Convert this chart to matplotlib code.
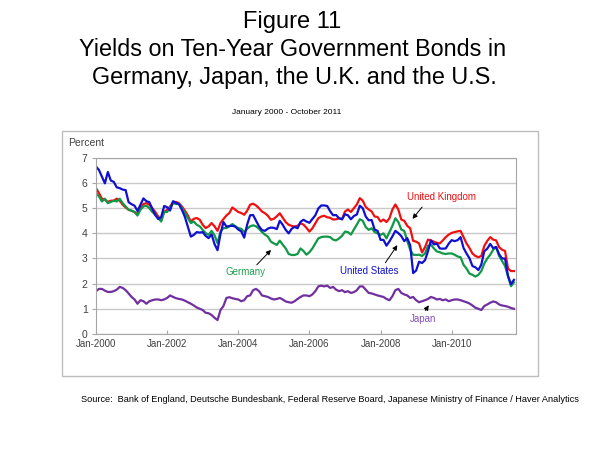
import numpy as np
import matplotlib
matplotlib.use('Agg')
import matplotlib.pyplot as plt
from matplotlib.patches import Rectangle

plt.rcParams['font.family'] = ['Liberation Sans', 'DejaVu Sans']

# monthly yields, Jan-2000 .. Oct-2011 (percent)
us = [6.66, 6.52, 6.26, 5.99, 6.44, 6.10, 6.05, 5.83, 5.80, 5.74, 5.72, 5.24,
      5.16, 5.10, 4.89, 5.14, 5.39, 5.28, 5.24, 4.97, 4.73, 4.57, 4.65, 5.09,
      5.04, 4.91, 5.28, 5.21, 5.16, 4.93, 4.65, 4.26, 3.87, 3.94, 4.05, 4.03,
      4.05, 3.90, 3.81, 3.96, 3.57, 3.33, 3.98, 4.45, 4.27, 4.29, 4.30, 4.27,
      4.15, 4.08, 3.83, 4.35, 4.72, 4.73, 4.50, 4.28, 4.13, 4.10, 4.19, 4.23,
      4.22, 4.17, 4.50, 4.34, 4.14, 4.00, 4.18, 4.26, 4.20, 4.46, 4.54, 4.47,
      4.42, 4.57, 4.72, 4.99, 5.11, 5.11, 5.09, 4.88, 4.72, 4.73, 4.60, 4.56,
      4.76, 4.72, 4.56, 4.69, 4.75, 5.10, 5.00, 4.67, 4.52, 4.53, 4.15, 4.10,
      3.74, 3.74, 3.51, 3.68, 3.88, 4.10, 4.01, 3.89, 3.69, 3.81, 3.53, 2.42,
      2.52, 2.87, 2.82, 2.93, 3.29, 3.72, 3.56, 3.59, 3.40, 3.39, 3.40, 3.59,
      3.73, 3.69, 3.73, 3.85, 3.42, 3.20, 3.01, 2.70, 2.65, 2.54, 2.76, 3.29,
      3.39, 3.58, 3.41, 3.46, 3.17, 3.00, 3.00, 2.30, 1.98, 2.15]

uk = [5.80, 5.60, 5.38, 5.34, 5.25, 5.30, 5.30, 5.38, 5.30, 5.14, 5.03, 4.94,
      4.90, 4.85, 4.77, 5.00, 5.17, 5.20, 5.14, 5.00, 4.85, 4.67, 4.54, 4.85,
      4.94, 5.07, 5.25, 5.25, 5.20, 5.07, 4.90, 4.71, 4.47, 4.58, 4.61, 4.54,
      4.34, 4.21, 4.28, 4.41, 4.28, 4.10, 4.41, 4.57, 4.71, 4.81, 5.03, 4.94,
      4.85, 4.81, 4.74, 4.90, 5.14, 5.18, 5.11, 5.00, 4.87, 4.80, 4.70, 4.54,
      4.58, 4.68, 4.80, 4.62, 4.45, 4.34, 4.30, 4.27, 4.30, 4.40, 4.35, 4.22,
      4.07, 4.20, 4.40, 4.60, 4.67, 4.70, 4.64, 4.62, 4.55, 4.56, 4.60, 4.56,
      4.87, 4.95, 4.85, 5.00, 5.15, 5.40, 5.30, 5.05, 4.95, 4.87, 4.67, 4.65,
      4.47, 4.55, 4.45, 4.60, 4.95, 5.15, 4.95, 4.55, 4.50, 4.30, 4.20, 3.70,
      3.67, 3.60, 3.24, 3.45, 3.75, 3.72, 3.67, 3.62, 3.60, 3.72, 3.85, 3.95,
      4.02, 4.05, 4.08, 4.10, 3.85, 3.60, 3.42, 3.20, 3.10, 3.05, 3.10, 3.50,
      3.70, 3.85, 3.75, 3.72, 3.45, 3.35, 3.30, 2.60, 2.50, 2.50]

germany = [5.60, 5.47, 5.27, 5.38, 5.20, 5.25, 5.30, 5.27, 5.38, 5.20, 5.07, 4.94,
           4.90, 4.85, 4.71, 4.94, 5.07, 5.10, 5.00, 4.85, 4.74, 4.61, 4.47, 4.85,
           4.85, 5.03, 5.20, 5.17, 5.17, 5.00, 4.81, 4.61, 4.41, 4.47, 4.34, 4.28,
           4.14, 4.01, 3.94, 4.10, 3.92, 3.61, 4.07, 4.21, 4.21, 4.28, 4.37, 4.28,
           4.21, 4.18, 4.05, 4.18, 4.28, 4.32, 4.28, 4.18, 4.05, 3.95, 3.87, 3.67,
           3.60, 3.54, 3.71, 3.55, 3.40, 3.18, 3.14, 3.14, 3.18, 3.40, 3.30, 3.15,
           3.25, 3.40, 3.60, 3.80, 3.85, 3.87, 3.87, 3.85, 3.75, 3.72, 3.80, 3.90,
           4.07, 4.05, 3.95, 4.15, 4.35, 4.56, 4.50, 4.25, 4.14, 4.20, 4.05, 4.00,
           3.94, 4.00, 3.80, 4.05, 4.30, 4.60, 4.45, 4.15, 4.10, 3.70, 3.35, 3.15,
           3.14, 3.15, 3.10, 3.20, 3.50, 3.55, 3.40, 3.28, 3.25, 3.20, 3.18, 3.20,
           3.20, 3.15, 3.08, 3.05, 2.75, 2.60, 2.40, 2.35, 2.28, 2.35, 2.50, 2.80,
           3.00, 3.15, 3.35, 3.45, 3.10, 2.90, 2.70, 2.30, 1.90, 2.05]

japan = [1.70, 1.79, 1.79, 1.72, 1.67, 1.67, 1.70, 1.76, 1.87, 1.83, 1.74, 1.61,
         1.47, 1.37, 1.20, 1.34, 1.30, 1.20, 1.30, 1.34, 1.37, 1.37, 1.34, 1.37,
         1.43, 1.53, 1.47, 1.42, 1.39, 1.37, 1.32, 1.26, 1.20, 1.13, 1.05, 1.00,
         0.95, 0.84, 0.82, 0.75, 0.64, 0.55, 0.95, 1.11, 1.43, 1.46, 1.42, 1.39,
         1.37, 1.30, 1.34, 1.50, 1.53, 1.74, 1.79, 1.70, 1.53, 1.50, 1.47, 1.41,
         1.37, 1.39, 1.43, 1.37, 1.29, 1.26, 1.24, 1.30, 1.39, 1.47, 1.53, 1.53,
         1.50, 1.57, 1.70, 1.89, 1.92, 1.89, 1.92, 1.83, 1.87, 1.76, 1.70, 1.74,
         1.66, 1.70, 1.63, 1.66, 1.74, 1.89, 1.89, 1.76, 1.63, 1.61, 1.57, 1.53,
         1.50, 1.47, 1.39, 1.34, 1.50, 1.74, 1.79, 1.63, 1.57, 1.53, 1.43, 1.47,
         1.34, 1.26, 1.30, 1.34, 1.39, 1.47, 1.43, 1.37, 1.39, 1.34, 1.37, 1.30,
         1.34, 1.37, 1.37, 1.34, 1.30, 1.26, 1.21, 1.13, 1.04, 1.00, 0.95, 1.11,
         1.17, 1.24, 1.29, 1.26, 1.17, 1.13, 1.11, 1.08, 1.03, 1.00]

tick_months = [0, 24, 48, 72, 96, 120]
tick_labels = ['Jan-2000', 'Jan-2002', 'Jan-2004', 'Jan-2006', 'Jan-2008', 'Jan-2010']

months = np.arange(len(us))

fig = plt.figure(figsize=(6, 4.5), dpi=100)

# grey frame round the chart
fig.patches.append(Rectangle((0.103, 0.164), 0.794, 0.545, transform=fig.transFigure,
                             fill=False, edgecolor='#BDBDBD', lw=1))

ax = fig.add_axes([0.16, 0.258, 0.70, 0.391])
ax.plot(months, uk, color='#F01010', lw=1.6)
ax.plot(months, germany, color='#109848', lw=1.6)
ax.plot(months, us, color='#1010D0', lw=1.6)
ax.plot(months, japan, color='#7030A0', lw=1.6)

ax.set_xlim(0, 141.7)
ax.set_ylim(0, 7)
ax.set_yticks(range(8))
ax.set_xticks(tick_months)
ax.set_xticklabels(tick_labels)
ax.grid(axis='y', color='#C8C8C8', lw=1)
ax.set_axisbelow(True)
for s in ax.spines.values():
    s.set_color('#A6A6A6')
ax.tick_params(axis='x', direction='in', length=3, color='#A6A6A6', labelsize=7,
               labelcolor='#404040', pad=4)
ax.tick_params(axis='y', length=3, color='#A6A6A6', labelsize=7.5, labelcolor='#404040', pad=3)

fig.text(0.113, 0.683, 'Percent', fontsize=7.5, color='#404040', va='center')

# series labels with arrows
arw = dict(arrowstyle='-|>', color='black', lw=0.7, mutation_scale=7)
ax.text(104.9, 5.45, 'United Kingdom', color='#F01010', fontsize=7, va='center')
ax.annotate('', xy=(106.2, 4.49), xytext=(110.6, 5.13), arrowprops=arw)
ax.text(50.6, 2.47, 'Germany', color='#20A050', fontsize=7, va='center', ha='center')
ax.annotate('', xy=(59.7, 3.42), xytext=(53.6, 2.67), arrowprops=arw)
ax.text(92.1, 2.51, 'United States', color='#1010D0', fontsize=7, va='center', ha='center')
ax.annotate('', xy=(102.2, 3.62), xytext=(97.1, 2.74), arrowprops=arw)
ax.text(110.5, 0.6, 'Japan', color='#8050B0', fontsize=7, va='center', ha='center')
ax.annotate('', xy=(112.8, 1.23), xytext=(110.6, 0.84), arrowprops=arw)

fig.text(0.487, 0.951, 'Figure 11', fontsize=17, ha='center', va='center')
fig.text(0.487, 0.889, 'Yields on Ten-Year Government Bonds in', fontsize=16.8,
         ha='center', va='center')
fig.text(0.49, 0.827, 'Germany, Japan, the U.K. and the U.S.', fontsize=16.8,
         ha='center', va='center')
fig.text(0.477, 0.749, 'January 2000 - October 2011', fontsize=6.0, ha='center', va='center')
fig.text(0.55, 0.113, 'Source:  Bank of England, Deutsche Bundesbank, Federal Reserve Board, '
         'Japanese Ministry of Finance / Haver Analytics', fontsize=6.6, ha='center', va='center')

fig.savefig('out.png', dpi=100)
